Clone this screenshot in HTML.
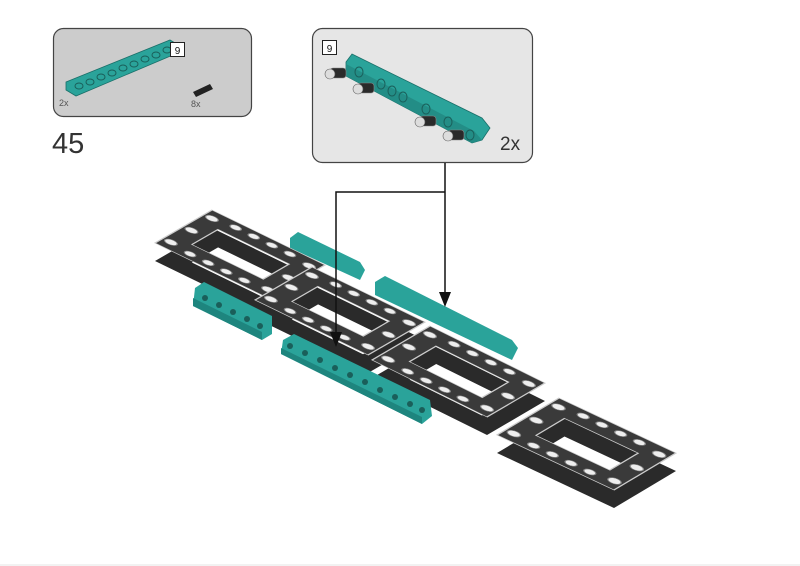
<!DOCTYPE html>
<html><head><meta charset="utf-8"><style>
html,body{margin:0;padding:0;background:#fff}
svg{display:block}
text{font-family:"Liberation Sans",sans-serif}
</style></head><body>
<svg width="800" height="566" viewBox="0 0 800 566">
<defs>
<g id="ring">
<path d="M0,0 L1,0 L1,1 L0,1 Z M0.19,0.27 L0.19,0.73 L0.82,0.73 L0.82,0.27 Z" fill-rule="evenodd"/>
</g>
<g id="dots" fill="#eee" stroke="#888" stroke-width="0.01">
<circle cx="0.07" cy="0.5" r="0.05"/><circle cx="0.07" cy="0.14" r="0.05"/><circle cx="0.07" cy="0.86" r="0.05"/>
<circle cx="0.93" cy="0.5" r="0.05"/><circle cx="0.93" cy="0.14" r="0.05"/><circle cx="0.93" cy="0.86" r="0.05"/>
<circle cx="0.26" cy="0.1" r="0.045"/><circle cx="0.42" cy="0.1" r="0.045"/><circle cx="0.58" cy="0.1" r="0.045"/><circle cx="0.74" cy="0.1" r="0.045"/>
<circle cx="0.26" cy="0.9" r="0.045"/><circle cx="0.42" cy="0.9" r="0.045"/><circle cx="0.58" cy="0.9" r="0.045"/><circle cx="0.74" cy="0.9" r="0.045"/>
</g>
</defs>
<line x1="0" y1="565" x2="800" y2="565" stroke="#e6e6e6"/>

<!-- left box -->
<rect x="53.5" y="28.5" width="198" height="88" rx="10" fill="#cccccc" stroke="#444" stroke-width="1.2"/>
<path d="M66,82 L170,40 L180,46 L180,52 L76,96 L66,90 Z" fill="#2aa39a" stroke="#1a6f69" stroke-width="0.8"/>
<g fill="none" stroke="#1a5f5a" stroke-width="1">
<ellipse cx="79" cy="86" rx="4" ry="3"/><ellipse cx="90" cy="82" rx="4" ry="3"/><ellipse cx="101" cy="77" rx="4" ry="3"/><ellipse cx="112" cy="73" rx="4" ry="3"/><ellipse cx="123" cy="68" rx="4" ry="3"/><ellipse cx="134" cy="64" rx="4" ry="3"/><ellipse cx="145" cy="59" rx="4" ry="3"/><ellipse cx="156" cy="55" rx="4" ry="3"/><ellipse cx="167" cy="50" rx="4" ry="3"/>
</g>
<rect x="170.5" y="42.5" width="14" height="14" fill="#fff" stroke="#222"/>
<text x="177.5" y="54" font-size="10" text-anchor="middle" fill="#111">9</text>
<path d="M193,92 L210,84 L213,89 L196,97 Z" fill="#222"/>
<text x="59" y="106" font-size="9" fill="#555">2x</text>
<text x="191" y="107" font-size="9" fill="#555">8x</text>
<text x="52" y="153" font-size="29" fill="#333" font-weight="300">45</text>

<!-- right box -->
<rect x="312.5" y="28.5" width="220" height="134" rx="10" fill="#e6e6e6" stroke="#444" stroke-width="1.2"/>
<path d="M346,62 L352,54 L482,118 L490,128 L482,140 L472,143 L346,76 Z" fill="#2aa39a" stroke="#1a6f69" stroke-width="0.8"/>
<path d="M346,64 L474,131 L482,140 L472,143 L346,76 Z" fill="#238d86"/>
<g fill="none" stroke="#1a5f5a" stroke-width="1">
<ellipse cx="359" cy="72" rx="4" ry="5"/><ellipse cx="381" cy="84" rx="4" ry="5"/><ellipse cx="392" cy="91" rx="4" ry="5"/><ellipse cx="403" cy="97" rx="4" ry="5"/><ellipse cx="426" cy="109" rx="4" ry="5"/><ellipse cx="448" cy="122" rx="4" ry="5"/><ellipse cx="470" cy="135" rx="4" ry="5"/>
</g>
<g fill="#2a2a2a" stroke="#888" stroke-width="0.6">
<rect x="330" y="68" width="16" height="10" rx="3"/><rect x="358" y="83" width="16" height="10" rx="3"/><rect x="420" y="116" width="16" height="10" rx="3"/><rect x="448" y="130" width="16" height="10" rx="3"/>
</g>
<g fill="#ddd" stroke="#666" stroke-width="0.6">
<circle cx="330" cy="74" r="5"/><circle cx="358" cy="89" r="5"/><circle cx="420" cy="122" r="5"/><circle cx="448" cy="136" r="5"/>
</g>
<rect x="322.5" y="40.5" width="14" height="14" fill="#fff" stroke="#222"/>
<text x="329.5" y="52" font-size="10" text-anchor="middle" fill="#111">9</text>
<text x="500" y="150" font-size="19" fill="#333">2x</text>

<!-- beams behind -->
<path d="M290,238 L298,232 L360,262 L365,270 L360,280 L290,248 Z" fill="#2aa39a"/>
<path d="M375,282 L385,276 L512,340 L518,348 L512,360 L375,295 Z" fill="#2aa39a"/>

<!-- frame 1 -->
<g transform="translate(0,18)"><g transform="matrix(113,55,57,-33,155,243)"><use href="#ring" fill="#2a2a2a"/></g></g>
<g transform="matrix(113,55,57,-33,155,243)"><use href="#ring" fill="#3a3a3a" stroke="#ccc" stroke-width="0.012"/><use href="#dots"/></g>
<!-- frame 2 -->
<g transform="translate(0,18)"><g transform="matrix(113,55,57,-33,255,300)"><use href="#ring" fill="#2a2a2a"/></g></g>
<g transform="matrix(113,55,57,-33,255,300)"><use href="#ring" fill="#3a3a3a" stroke="#ccc" stroke-width="0.012"/><use href="#dots"/></g>

<!-- front beam C -->
<path d="M195,288 L204,282 L272,316 L272,334 L262,340 L193,306 Z" fill="#2aa39a"/>
<path d="M193,298 L262,332 L262,340 L193,306 Z" fill="#1e857e"/>
<g fill="#1a5f5a"><circle cx="205" cy="298" r="3"/><circle cx="219" cy="305" r="3"/><circle cx="233" cy="312" r="3"/><circle cx="247" cy="319" r="3"/><circle cx="260" cy="326" r="3"/></g>

<!-- frame 3 -->
<g transform="translate(0,18)"><g transform="matrix(115,57,58,-34,372,360)"><use href="#ring" fill="#2a2a2a"/></g></g>
<g transform="matrix(115,57,58,-34,372,360)"><use href="#ring" fill="#3a3a3a" stroke="#ccc" stroke-width="0.012"/><use href="#dots"/></g>

<!-- front beam D -->
<path d="M283,340 L294,334 L430,400 L432,416 L422,424 L281,354 Z" fill="#2aa39a"/>
<path d="M281,348 L422,417 L422,424 L281,354 Z" fill="#1e857e"/>
<g fill="#1a5f5a"><circle cx="290" cy="346" r="3"/><circle cx="305" cy="353" r="3"/><circle cx="320" cy="360" r="3"/><circle cx="335" cy="368" r="3"/><circle cx="350" cy="375" r="3"/><circle cx="365" cy="382" r="3"/><circle cx="380" cy="390" r="3"/><circle cx="395" cy="397" r="3"/><circle cx="410" cy="404" r="3"/><circle cx="422" cy="410" r="3"/></g>

<!-- frame 4 -->
<g transform="translate(0,18)"><g transform="matrix(117,55,62,-37,497,435)"><use href="#ring" fill="#2a2a2a"/></g></g>
<g transform="matrix(117,55,62,-37,497,435)"><use href="#ring" fill="#3a3a3a" stroke="#ccc" stroke-width="0.012"/><use href="#dots"/></g>

<!-- arrows -->
<g stroke="#111" stroke-width="1.5" fill="none">
<path d="M445,163 L445,295"/>
<path d="M445,192 L336,192 L336,335"/>
</g>
<path d="M439,292 L451,292 L445,307 Z" fill="#111"/>
<path d="M330,332 L342,332 L336,347 Z" fill="#111"/>
</svg>
</body></html>
